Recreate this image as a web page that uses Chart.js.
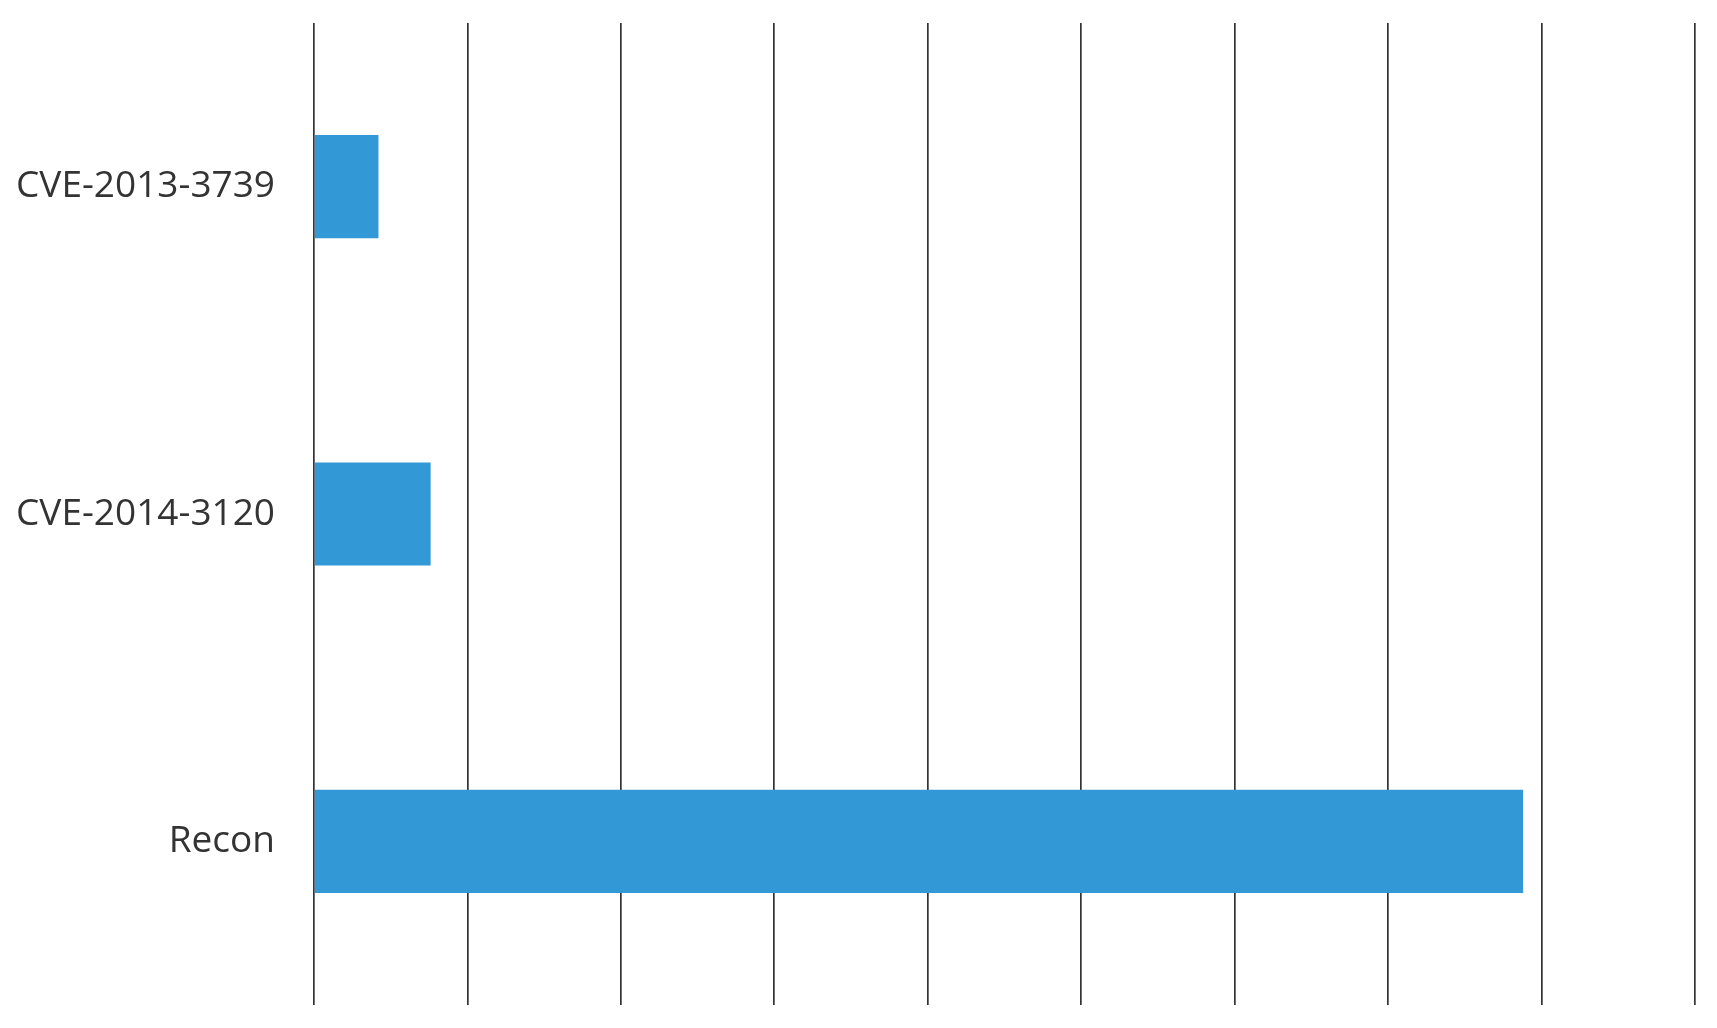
<!DOCTYPE html>
<html>
<head>
<meta charset="utf-8">
<script src="https://cdn.jsdelivr.net/npm/chart.js@4"></script>
<style>
  html, body { margin: 0; padding: 0; background: #ffffff; }
  #wrap { width: 1717px; height: 1028px; position: relative; }
</style>
</head>
<body>
<div id="wrap"><canvas id="barChart"></canvas></div>
<script>
// Data (units per gridline step)
const categories = ['CVE-2013-3739', 'CVE-2014-3120', 'Recon'];
const values = [0.42, 0.76, 7.88];
const axisMin = 0;
const axisMax = 9;
const axisStep = 1;

const barColor = '#3299d6';
const lineColor = '#333333';

document.addEventListener('DOMContentLoaded', () => {
    const ctx = document.getElementById('barChart').getContext('2d');

    new Chart(ctx, {
        type: 'bar',
        data: {
            labels: categories,
            datasets: [{
                data: values,
                backgroundColor: barColor,
                borderWidth: 0,
                categoryPercentage: 1,
                barPercentage: 0.315
            }]
        },
        options: {
            indexAxis: 'y',
            responsive: true,
            maintainAspectRatio: false,
            animation: false,
            layout: { padding: { top: 23, bottom: 23, right: 22, left: 0 } },
            plugins: {
                legend: { display: false },
                tooltip: { enabled: false }
            },
            scales: {
                x: {
                    min: axisMin,
                    max: axisMax,
                    ticks: { display: false, stepSize: axisStep },
                    grid: { color: lineColor, lineWidth: 1.7, drawTicks: false },
                    border: { display: false }
                },
                y: {
                    grid: { display: false, drawTicks: false },
                    border: { display: false },
                    ticks: {
                        color: '#333333',
                        padding: 39,
                        font: { family: 'Open Sans', size: 37 }
                    },
                    afterFit: (scale) => {
                        scale.width = 314;
                        // labels sit inside the band, no extra room needed
                        scale.paddingTop = 0;
                        scale.paddingBottom = 0;
                    }
                }
            }
        }
    });
});
</script>
</body>
</html>
